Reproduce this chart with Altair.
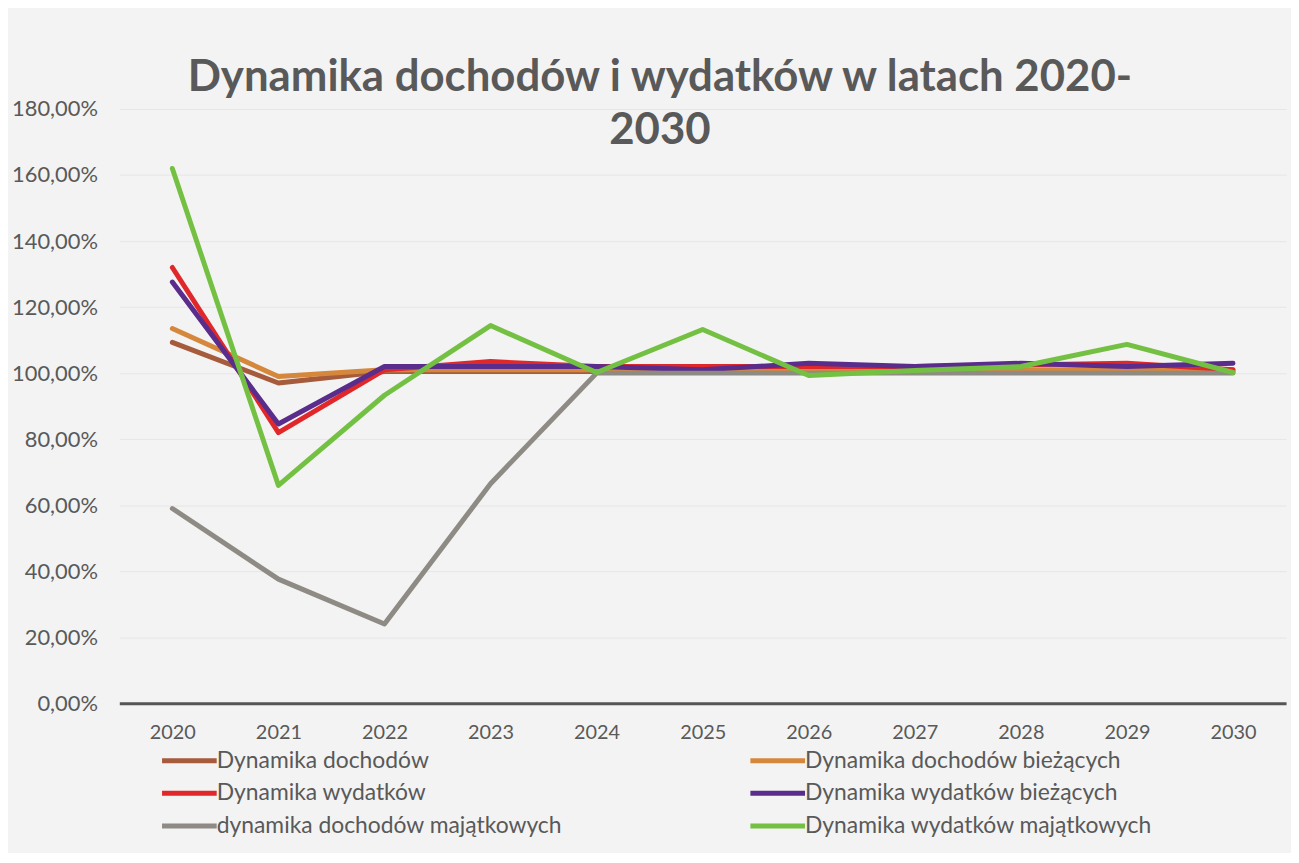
import altair as alt
import pandas as pd

years = ["2020", "2021", "2022", "2023", "2024", "2025", "2026", "2027", "2028", "2029", "2030"]

series_names = [
    "Dynamika dochodów",
    "Dynamika dochodów bieżących",
    "Dynamika wydatków",
    "Dynamika wydatków bieżących",
    "dynamika  dochodów majątkowych",
    "Dynamika wydatków majątkowych",
]
series_colors = ["#A65B3C", "#D5873C", "#E0282A", "#5A2D8C", "#8E8A84", "#74C043"]

dochodow = [1.093, 0.970, 1.005, 1.005, 1.005, 1.005, 1.005, 1.005, 1.005, 1.005, 1.005]
dochodow_biezacych = [1.135, 0.990, 1.010, 1.010, 1.010, 1.010, 1.010, 1.010, 1.010, 1.010, 1.010]
wydatkow = [1.320, 0.820, 1.010, 1.035, 1.020, 1.020, 1.020, 1.020, 1.025, 1.030, 1.010]
wydatkow_biezacych = [1.276, 0.846, 1.020, 1.020, 1.020, 1.010, 1.030, 1.020, 1.030, 1.020, 1.030]
dochodow_majatkowych = [0.590, 0.376, 0.240, 0.665, 1.000, 1.000, 1.000, 1.000, 1.000, 1.000, 1.000]
wydatkow_majatkowych = [1.620, 0.660, 0.933, 1.144, 1.002, 1.132, 0.993, 1.008, 1.020, 1.087, 1.002]

all_series = [dochodow, dochodow_biezacych, wydatkow, wydatkow_biezacych,
              dochodow_majatkowych, wydatkow_majatkowych]

rows = []
for si, (name, vals) in enumerate(zip(series_names, all_series)):
    for y, v in zip(years, vals):
        rows.append({"rok": y, "seria": name, "wartosc": v, "idx": si})
df = pd.DataFrame(rows)

FONT = "Lato"
GRAY = "#595959"

chart = alt.Chart(df).mark_line(strokeWidth=5, strokeCap="round", strokeJoin="round").encode(
    x=alt.X("rok:O", sort=years, scale=alt.Scale(paddingOuter=0.5),
            axis=alt.Axis(title=None, labelAngle=0, labelFontSize=20, labelColor=GRAY,
                          labelFont=FONT, ticks=False, labelPadding=19,
                          domainColor="#555555", domainWidth=3, grid=False)),
    y=alt.Y("wartosc:Q", scale=alt.Scale(domain=[0, 1.8], nice=False),
            axis=alt.Axis(title=None, values=[0, 0.2, 0.4, 0.6, 0.8, 1.0, 1.2, 1.4, 1.6, 1.8],
                          labelExpr="replace(format(datum.value, '.2%'), '.', ',')",
                          labelFontSize=22, labelColor=GRAY, labelFont=FONT,
                          ticks=False, domain=False, labelPadding=22,
                          gridColor="#e6e6e6", gridWidth=1)),
    color=alt.Color("seria:N", sort=series_names,
                    scale=alt.Scale(domain=series_names, range=series_colors),
                    legend=alt.Legend(title=None, orient="none", legendX=54, legendY=639,
                                      direction="horizontal",
                                      columns=2, columnPadding=173, rowPadding=4,
                                      symbolType="M-2,0H2", symbolSize=756,
                                      symbolStrokeWidth=5, labelFontSize=23,
                                      labelColor=GRAY, labelFont=FONT, labelOffset=11,
                                      labelLimit=600)),
    order=alt.Order("rok:O"),
).properties(
    width=1174,
    height=598,
    autosize=alt.AutoSizeParams(type="none"),
    padding={"left": 112, "top": 99, "right": 5, "bottom": 148},
    background="#f3f3f3",
    title=alt.TitleParams(
        text=["Dynamika dochodów i wydatków w latach 2020-", "2030"],
        fontSize=44, font=FONT, fontWeight="bold", color=GRAY,
        lineHeight=53, anchor="middle", dx=-43, offset=-55,
    ),
).configure_view(stroke=None)

chart.save("out.html", embed_options={"renderer": "svg", "actions": False})
